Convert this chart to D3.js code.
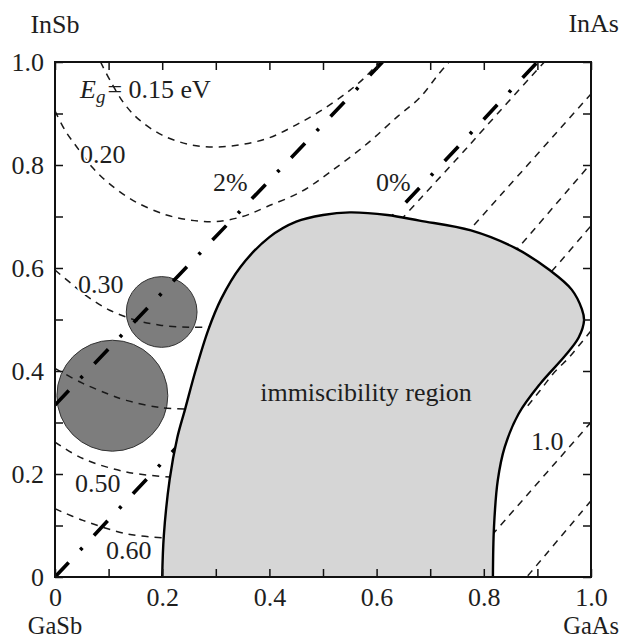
<!DOCTYPE html>
<html>
<head>
<meta charset="utf-8">
<script src="https://cdnjs.cloudflare.com/ajax/libs/d3/7.8.5/d3.min.js"></script>
<style>
  body { margin: 0; background: #fff; }
  svg text { font-family: "Liberation Serif", "Times New Roman", serif; fill: #1e1e1e; }
</style>
</head>
<body>
<div id="chart"></div>
<script>
// tick labels and corner compounds
const xTickLabels = ["0", "0.2", "0.4", "0.6", "0.8", "1.0"];
const yTickLabels = ["0", "0.2", "0.4", "0.6", "0.8", "1.0"];
const cornerLabels = ["InSb", "InAs", "GaSb", "GaAs"];

// immiscibility region boundary (x, y), from bottom left round to bottom right
const boundary = [
    [0.200, 0.000], [0.203, 0.080], [0.214, 0.190], [0.228, 0.270], [0.243, 0.327],
    [0.262, 0.400], [0.286, 0.480], [0.310, 0.540], [0.346, 0.602], [0.400, 0.660],
    [0.450, 0.690], [0.500, 0.703], [0.550, 0.708], [0.620, 0.703], [0.680, 0.692],
    [0.776, 0.673], [0.860, 0.638], [0.924, 0.595], [0.964, 0.558], [0.983, 0.520],
    [0.987, 0.498], [0.977, 0.465], [0.952, 0.430], [0.905, 0.375], [0.865, 0.317],
    [0.839, 0.252], [0.826, 0.187], [0.819, 0.097], [0.817, 0.000]
];

// band gap contours, visible pieces only
const eg015 = [[0.085, 1.0], [0.105, 0.96], [0.13, 0.918], [0.158, 0.887], [0.2, 0.858], [0.25, 0.840],
    [0.30, 0.835], [0.35, 0.840], [0.40, 0.853], [0.45, 0.878], [0.50, 0.908], [0.55, 0.945], [0.58, 0.972], [0.605, 1.0]];
const eg020 = [[0.0, 0.905], [0.02, 0.865], [0.04, 0.836], [0.07, 0.795], [0.1, 0.765], [0.146, 0.731], [0.208, 0.703],
    [0.26, 0.692], [0.30, 0.690], [0.35, 0.700], [0.395, 0.719], [0.459, 0.748], [0.514, 0.787], [0.583, 0.842],
    [0.64, 0.895], [0.68, 0.93], [0.7145, 0.975], [0.735, 1.0]];
const eg030a = [[0.0, 0.596], [0.03, 0.57], [0.06, 0.545], [0.102, 0.518], [0.15, 0.499], [0.196, 0.489], [0.25, 0.485], [0.30, 0.485]];
const eg030b = [[0.645, 0.693], [0.684, 0.7375], [0.75, 0.812], [0.80, 0.870], [0.8985, 0.9835], [0.913, 1.0]];
const eg040a = [[0.0, 0.405], [0.052, 0.376], [0.10, 0.355], [0.133, 0.343], [0.196, 0.329], [0.25, 0.326]];
const eg040b = [[0.75, 0.646], [0.776, 0.6765], [1.0, 0.938]];
const eg050a = [[0.0, 0.262], [0.052, 0.23], [0.133, 0.204], [0.215, 0.194], [0.24, 0.193]];
const eg050b = [[0.84, 0.61], [0.86, 0.634], [1.0, 0.803]];
const eg060a = [[0.0, 0.1325], [0.052, 0.11], [0.133, 0.084], [0.202, 0.076], [0.22, 0.075]];
const eg060b = [[0.91, 0.575], [0.925, 0.5915], [1.0, 0.682]];
const eg080 = [[1.0, 0.478], [0.978, 0.45], [0.958, 0.425], [0.932, 0.398], [0.905, 0.362], [0.88, 0.33]];
const eg100 = [[1.0, 0.3005], [0.8445, 0.116], [0.81, 0.075]];
const eg120 = [[1.0, 0.148], [0.8875, 0.009], [0.88, 0.0]];

// lattice mismatch lines
const mismatch0 = [[0, 0], [0.9, 1.0]];
const mismatch2 = [[0, 0.334], [0.611, 1.0]];

// circles: x, y, radius (x units)
const circles = [[0.107, 0.352, 0.1035], [0.199, 0.5146, 0.066]];

const contourLabels = ["0.20", "0.30", "0.50", "0.60", "1.0"];
const mismatchLabels = ["2%", "0%"];

const W = 622, H = 639;
const margin = {top: 62, right: 31, bottom: 62, left: 55};
const width = W - margin.left - margin.right;
const height = H - margin.top - margin.bottom;

const svg = d3.select("#chart").append("svg")
    .attr("width", W)
    .attr("height", H);
const g = svg.append("g")
    .attr("transform", "translate(" + margin.left + "," + margin.top + ")");

const x = d3.scaleLinear().domain([0, 1]).range([0, width]);
const y = d3.scaleLinear().domain([0, 1]).range([height, 0]);

const curve = d3.line()
    .x(d => x(d[0]))
    .y(d => y(d[1]))
    .curve(d3.curveCatmullRom.alpha(0.5));

g.append("clipPath").attr("id", "plot")
  .append("rect").attr("width", width).attr("height", height);

const plot = g.append("g").attr("clip-path", "url(#plot)");

// circles
plot.selectAll(".blob")
    .data(circles)
  .enter().append("circle")
    .attr("class", "blob")
    .attr("cx", d => x(d[0]))
    .attr("cy", d => y(d[1]))
    .attr("r", d => x(d[2]) - x(0))
    .attr("fill", "#7d7d7d")
    .attr("stroke", "#333")
    .attr("stroke-width", 1);

// contours
const contours = [eg015, eg020, eg030a, eg030b, eg040a, eg040b, eg050a, eg050b, eg060a, eg060b, eg080, eg100, eg120];
plot.selectAll(".contour")
    .data(contours)
  .enter().append("path")
    .attr("class", "contour")
    .attr("d", curve)
    .attr("fill", "none")
    .attr("stroke", "#1a1a1a")
    .attr("stroke-width", 1.5)
    .attr("stroke-dasharray", "7,6");

// mismatch lines
plot.selectAll(".mismatch")
    .data([mismatch0, mismatch2])
  .enter().append("path")
    .attr("class", "mismatch")
    .attr("d", curve)
    .attr("fill", "none")
    .attr("stroke", "#000")
    .attr("stroke-width", 3.6)
    .attr("stroke-dasharray", "20,17,3,17");

// immiscibility region
plot.append("path")
    .attr("d", curve(boundary) + "Z")
    .attr("fill", "#d6d6d6")
    .attr("stroke", "none");
plot.append("path")
    .attr("d", curve(boundary))
    .attr("fill", "none")
    .attr("stroke", "#000")
    .attr("stroke-width", 2.4);

// axes, ticks inward every 0.1
const ticks = d3.range(0, 11).map(i => i / 10);
const fmt = (labels) => (d, i) => i % 2 === 0 ? labels[i / 2] : "";

g.append("g")
    .attr("transform", "translate(0," + height + ")")
    .call(d3.axisBottom(x).tickValues(ticks).tickSize(-8).tickPadding(10.5).tickFormat(fmt(xTickLabels)));
g.append("g")
    .call(d3.axisLeft(y).tickValues(ticks).tickSize(-8).tickPadding(11).tickFormat(fmt(yTickLabels)));
g.append("g")
    .call(d3.axisTop(x).tickValues(ticks).tickSize(-8).tickFormat(""));
g.append("g")
    .attr("transform", "translate(" + width + ",0)")
    .call(d3.axisRight(y).tickValues(ticks).tickSize(-8).tickFormat(""));

g.selectAll(".domain").remove();
g.selectAll(".tick line").attr("stroke", "#111").attr("stroke-width", 1.5);
g.selectAll(".tick text").attr("font-size", 26).attr("fill", "#1e1e1e");

g.append("rect")
    .attr("width", width)
    .attr("height", height)
    .attr("fill", "none")
    .attr("stroke", "#111")
    .attr("stroke-width", 2);

// text labels
const txt = (sx, sy, s, anchor) => g.append("text")
    .attr("x", sx).attr("y", sy)
    .attr("font-size", 26)
    .attr("text-anchor", anchor || "start")
    .text(s);

// contour labels with white halo so the dashes break around them
const contourPos = [[80, 163], [78, 293], [75, 492], [106, 559], [531, 450]];
contourLabels.forEach((s, i) => {
    txt(contourPos[i][0] - margin.left, contourPos[i][1] - margin.top, s)
        .attr("stroke", "#fff").attr("stroke-width", 4).attr("paint-order", "stroke");
});

const mismatchPos = [[213, 191], [376, 191]];
mismatchLabels.forEach((s, i) => txt(mismatchPos[i][0] - margin.left, mismatchPos[i][1] - margin.top, s));

txt(366 - margin.left, 401 - margin.top, "immiscibility region", "middle");

// E_g = 0.15 eV
const eg = g.append("text")
    .attr("x", 80 - margin.left).attr("y", 98 - margin.top)
    .attr("font-size", 26);
eg.append("tspan").attr("font-style", "italic").text("E");
eg.append("tspan").attr("font-style", "italic").attr("font-size", 19).attr("dy", 5).text("g");
eg.append("tspan").attr("dy", -5).attr("dx", 2).text("= 0.15 eV");

// corner compounds
txt(x(0), -29, cornerLabels[0], "middle");
txt(W - 3 - margin.left, -30, cornerLabels[1], "end");
txt(x(0), height + 56.5, cornerLabels[2], "middle").attr("font-size", 24.5);
txt(W - 3 - margin.left, height + 56.5, cornerLabels[3], "end").attr("font-size", 24.5);
</script>
</body>
</html>
